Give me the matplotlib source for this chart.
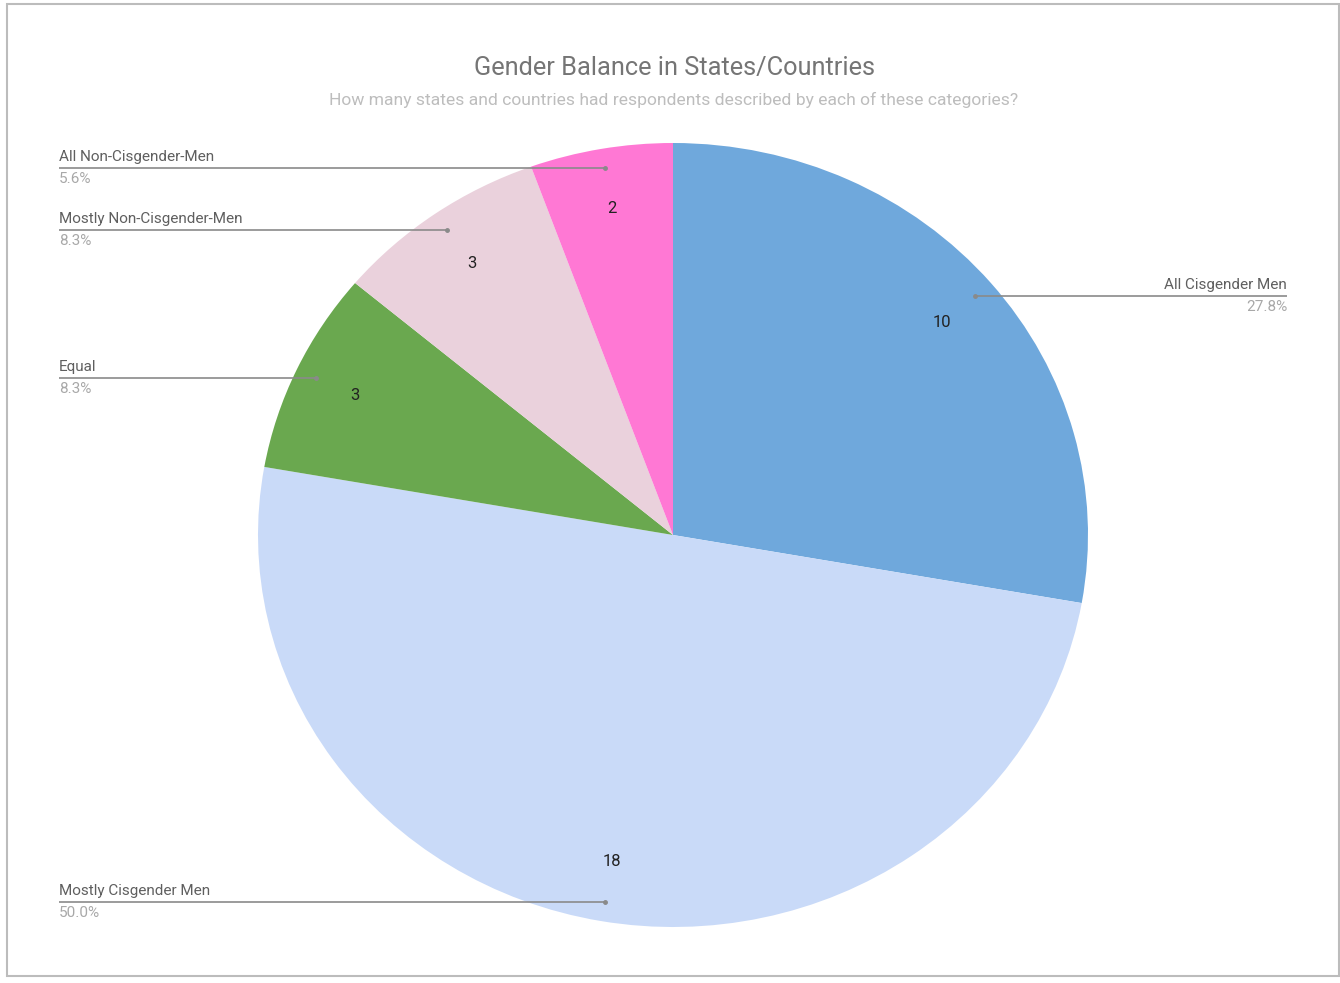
import matplotlib.pyplot as plt
from matplotlib.patches import Rectangle
import numpy as np

plt.rcParams['font.family'] = ['Roboto', 'DejaVu Sans']

categories = ['All Cisgender Men', 'Mostly Cisgender Men', 'Equal',
              'Mostly Non-Cisgender-Men', 'All Non-Cisgender-Men']
counts = [10, 18, 3, 3, 2]
colors = ['#6fa8dc', '#c9daf8', '#6aa84f', '#ead1dc', '#ff78d4']
label_side = ['right', 'left', 'left', 'left', 'left']

total = sum(counts)

fig = plt.figure(figsize=(13.4, 9.83), dpi=100)
ax = fig.add_axes([258 / 1340, 56 / 983, 830 / 1340, 784 / 983])

wedges, texts, autotexts = ax.pie(
    counts, colors=colors, startangle=90, counterclock=False,
    autopct=lambda p: f'{round(p * total / 100)}', pctdistance=0.845,
    wedgeprops=dict(linewidth=0),
    textprops=dict(fontsize=12, color='#222222'))
ax.set_aspect('auto')
ax.set_xlim(-1, 1)
ax.set_ylim(-1, 1)

label_x = 1.48
for w, name, n, side in zip(wedges, categories, counts, label_side):
    mid = np.deg2rad((w.theta1 + w.theta2) / 2)
    ax_, ay = 0.95 * np.cos(mid), 0.95 * np.sin(mid)
    lx = label_x if side == 'right' else -label_x
    ha = 'right' if side == 'right' else 'left'
    ax.plot([ax_, lx], [ay, ay], color='#8a8a8a', lw=1.2, clip_on=False,
            solid_capstyle='butt')
    ax.plot([ax_], [ay], 'o', ms=2.5, color='#8a8a8a', clip_on=False)
    ax.annotate(name, (lx, ay), xytext=(0, 8), textcoords='offset points',
                ha=ha, va='center', fontsize=11, color='#5f5f5f',
                annotation_clip=False)
    ax.annotate(f'{100 * n / total:.1f}%', (lx, ay), xytext=(0, -8),
                textcoords='offset points', ha=ha, va='center', fontsize=11,
                color='#a8a8a8', annotation_clip=False)

fig.text(674 / 1340, 1 - 68 / 983, 'Gender Balance in States/Countries',
         ha='center', va='center', fontsize=18.3, color='#757575')
fig.text(674 / 1340, 1 - 100 / 983,
         'How many states and countries had respondents described by each of these categories?',
         ha='center', va='center', fontsize=12.6, color='#bdbdbd')

fig.add_artist(Rectangle((7 / 1340, 7 / 983), 1332 / 1340, 972 / 983,
                         transform=fig.transFigure, fill=False,
                         edgecolor='#bcbcbc', lw=1.5))

fig.savefig('out.png', dpi=100)
